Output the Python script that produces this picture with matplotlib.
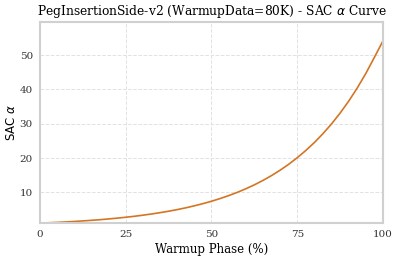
import matplotlib
matplotlib.use("Agg")
import matplotlib.pyplot as plt
import numpy as np

# warmup phase (%) and alpha values
phase = [0, 2.5, 5, 7.5, 10, 12.5, 15, 17.5, 20, 22.5, 25, 27.5, 30, 32.5, 35,
         37.5, 40, 42.5, 45, 47.5, 50, 52.5, 55, 57.5, 60, 62.5, 65, 67.5, 70,
         72.5, 75, 77.5, 80, 82.5, 85, 87.5, 90, 92.5, 95, 97.5, 100]
alpha = [1.00, 1.11, 1.22, 1.35, 1.49, 1.65, 1.82, 2.01, 2.23, 2.46, 2.72,
         3.00, 3.32, 3.67, 4.06, 4.48, 4.95, 5.47, 6.05, 6.69, 7.39, 8.17,
         9.03, 9.97, 11.02, 12.18, 13.46, 14.88, 16.44, 18.17, 20.09, 22.20,
         24.53, 27.11, 29.96, 33.12, 36.60, 40.45, 44.70, 49.40, 54.20]
xticks = [0, 25, 50, 75, 100]
yticks = [10, 20, 30, 40, 50]

plt.rcParams['font.family'] = 'DejaVu Serif'

fig, ax = plt.subplots(figsize=(3.99, 2.61), dpi=100)
ax.plot(phase, alpha, color='#d47524', linewidth=1.2)

ax.set_xlim(0, 100)
ax.set_ylim(1, max(alpha) * 1.1)
ax.set_xticks(xticks)
ax.set_yticks(yticks)
ax.tick_params(length=0, labelsize=7.5, colors='#333333', pad=5)
ax.grid(True, linestyle='--', color='#e2e2e2', linewidth=0.7)
for s in ax.spines.values():
    s.set_color('#d0d0d0')
    s.set_linewidth(1.5)

ax.set_title('PegInsertionSide-v2 (WarmupData=80K) - SAC $\\alpha$ Curve', fontsize=8.8, pad=5)
ax.set_xlabel('Warmup Phase (%)', fontsize=8.5, labelpad=3)
ax.set_ylabel('SAC $\\alpha$', fontsize=8.5, labelpad=1, family='DejaVu Sans')

fig.subplots_adjust(left=0.10, right=0.96, top=0.915, bottom=0.145)
fig.savefig('out.png', dpi=100)
